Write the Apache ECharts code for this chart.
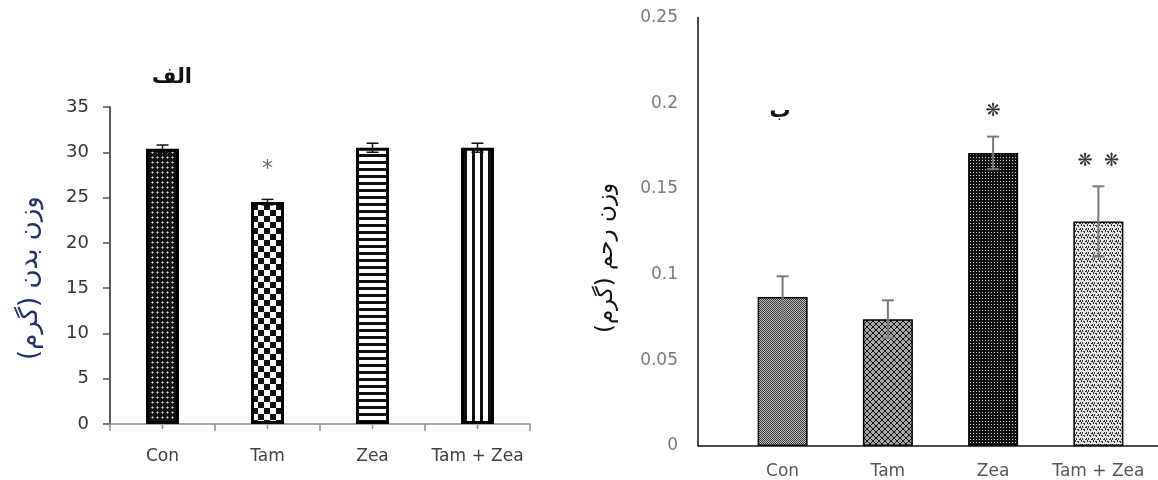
<!DOCTYPE html>
<html>
<head>
<meta charset="utf-8">
<script src="https://cdn.jsdelivr.net/npm/echarts@6/dist/echarts.min.js"></script>
<style>
html,body{margin:0;padding:0;background:#fff;}
#chart{width:1158px;height:480px;}
</style>
</head>
<body>
<div id="chart"></div>
<script>
// ---------- data ----------
const categories = ['Con', 'Tam', 'Zea', 'Tam + Zea'];

// Panel الف : body weight (g)
const bodyWeightMean = [30.4, 24.5, 30.5, 30.5];
const bodyWeightErr  = [0.4, 0.3, 0.5, 0.5];
const bodyWeightSig  = ['', '*', '', ''];
const bodyAxisMin = 0, bodyAxisMax = 35, bodyAxisStep = 5;

// Panel ب : uterus weight (g)
const uterusWeightMean = [0.087, 0.074, 0.171, 0.131];
const uterusWeightErr  = [0.012, 0.011, 0.0095, 0.0205];
const uterusWeightSig  = ['', '', '❋', '❋  ❋'];
const uterusAxisMin = 0, uterusAxisMax = 0.25, uterusAxisStep = 0.05;

const leftTitle = 'الف';
const rightTitle = 'ب';
const leftYName = 'وزن بدن (گرم)';
const rightYName = 'وزن رحم (گرم)';

// ---------- patterns ----------
function makeCanvas(w, h, draw) {
  const c = document.createElement('canvas');
  c.width = w; c.height = h;
  const ctx = c.getContext('2d');
  draw(ctx, w, h);
  return { image: c, repeat: 'repeat' };
}
const leftPatterns = [
  makeCanvas(5, 5, (ctx) => { ctx.fillStyle = '#111'; ctx.fillRect(0,0,5,5); ctx.fillStyle = '#ddd'; ctx.fillRect(2,2,1,1); ctx.fillStyle='#888'; ctx.fillRect(1,2,1,1);ctx.fillRect(3,2,1,1);ctx.fillRect(2,1,1,1);ctx.fillRect(2,3,1,1);}),
  makeCanvas(12, 12, (ctx) => { ctx.fillStyle = '#fff'; ctx.fillRect(0,0,12,12); ctx.fillStyle = '#111'; ctx.fillRect(0,0,6,6); ctx.fillRect(6,6,6,6); }),
  makeCanvas(7, 7, (ctx) => { ctx.fillStyle = '#fff'; ctx.fillRect(0,0,7,7); ctx.fillStyle = '#111'; ctx.fillRect(0,0,7,3); }),
  makeCanvas(8, 8, (ctx) => { ctx.fillStyle = '#fff'; ctx.fillRect(0,0,8,8); ctx.fillStyle = '#111'; ctx.fillRect(0,0,3,8); })
];
const rightPatterns = [
  makeCanvas(2, 2, (ctx) => { ctx.fillStyle = '#bdbdbd'; ctx.fillRect(0,0,2,2); ctx.fillStyle = '#3a3a3a'; ctx.fillRect(0,0,1,1); ctx.fillRect(1,1,1,1); }),
  makeCanvas(6, 6, (ctx) => { ctx.fillStyle = '#a8a8a8'; ctx.fillRect(0,0,6,6); ctx.fillStyle = '#111';
    for (let i=0;i<6;i++){ ctx.fillRect(i,i,1,1); ctx.fillRect(5-i,i,1,1);} }),
  makeCanvas(3, 3, (ctx) => { ctx.fillStyle = '#111'; ctx.fillRect(0,0,3,3); ctx.fillStyle = '#d0d0d0'; ctx.fillRect(1,1,1,1); }),
  makeCanvas(6, 6, (ctx) => { ctx.fillStyle = '#e4e4e4'; ctx.fillRect(0,0,6,6); ctx.fillStyle = '#333';
    ctx.fillRect(0,0,1,2); ctx.fillRect(2,0,1,2); ctx.fillRect(1,2,1,2); ctx.fillRect(3,3,1,1); ctx.fillRect(4,3,1,2); ctx.fillRect(5,1,1,1); })
];

// ---------- helpers ----------
function errorSeries(xIdx, yIdx, means, errs, sigs, color, lw, capHalf, sigOpts) {
  return {
    type: 'custom',
    xAxisIndex: xIdx, yAxisIndex: yIdx,
    z: 5,
    data: means.map((m, i) => [i, m, errs[i]]),
    encode: { x: 0, y: 1 },
    renderItem: function (params, api) {
      const i = api.value(0), v = api.value(1), e = api.value(2);
      const top = api.coord([i, v + e]);
      const bot = api.coord([i, v - e]);
      const x = top[0];
      const children = [
        { type: 'line', shape: { x1: x, y1: top[1], x2: x, y2: bot[1] }, style: { stroke: color, lineWidth: lw } },
        { type: 'line', shape: { x1: x - capHalf, y1: top[1], x2: x + capHalf, y2: top[1] }, style: { stroke: color, lineWidth: lw } },
        { type: 'line', shape: { x1: x - capHalf, y1: bot[1], x2: x + capHalf, y2: bot[1] }, style: { stroke: color, lineWidth: lw } }
      ];
      const s = sigs[params.dataIndex];
      if (s) {
        children.push({ type: 'text', style: { text: s, x: x, y: top[1] - sigOpts.gap, align: 'center', verticalAlign: 'middle',
          fill: sigOpts.color, font: sigOpts.font } });
      }
      return { type: 'group', children: children };
    }
  };
}

// short centre ticks under each bar (left panel), placed through the category axis scale
function centreTickSeries(xIdx, yIdx, n, len, color) {
  return {
    type: 'custom', xAxisIndex: xIdx, yAxisIndex: yIdx, z: 6, silent: true,
    data: Array.from({ length: n }, (_, i) => [i, 0]),
    encode: { x: 0, y: 1 },
    renderItem: function (params, api) {
      const p = api.coord([api.value(0), 0]);
      return { type: 'line', shape: { x1: p[0], y1: p[1] + 1, x2: p[0], y2: p[1] + len }, style: { stroke: color, lineWidth: 1.5 } };
    }
  };
}

const chart = echarts.init(document.getElementById('chart'), null, { renderer: 'canvas' });

const option = {
  animation: false,
  backgroundColor: '#fff',
  grid: [
    { left: 110, top: 107, width: 420, height: 317, containLabel: false },
    { left: 730, top: 17.5, width: 421, height: 428.5, containLabel: false }
  ],
  xAxis: [
    { type: 'category', gridIndex: 0, data: categories,
      axisLine: { lineStyle: { color: '#8a8a8a', width: 1.5 } },
      axisTick: { show: true, interval: 0, alignWithLabel: false, length: 7, lineStyle: { color: '#8a8a8a', width: 1.5 } },
      axisLabel: { interval: 0, margin: 24, color: '#404040', fontFamily: 'DejaVu Sans', fontSize: 17 } },
    { type: 'category', gridIndex: 1, data: categories,
      axisLine: { show: false },
      axisTick: { show: false },
      axisLabel: { interval: 0, margin: 17, color: '#555', fontFamily: 'DejaVu Sans', fontSize: 17 } }
  ],
  yAxis: [
    { type: 'value', gridIndex: 0, min: bodyAxisMin, max: bodyAxisMax, interval: bodyAxisStep,
      splitLine: { show: false },
      axisLine: { show: true, lineStyle: { color: '#222', width: 1.5 } },
      axisTick: { show: true, length: 7, lineStyle: { color: '#555', width: 1.5 } },
      axisLabel: { margin: 21, color: '#333', fontFamily: 'DejaVu Sans', fontSize: 18 } },
    { type: 'value', gridIndex: 1, min: uterusAxisMin, max: uterusAxisMax, interval: uterusAxisStep, offset: 32,
      splitLine: { show: false },
      axisLine: { show: true, lineStyle: { color: '#111', width: 1.5 } },
      axisTick: { show: false },
      axisLabel: { margin: 20, color: '#7a7a7a', fontFamily: 'DejaVu Sans', fontSize: 17,
        formatter: (v) => String(+v.toFixed(2)) } }
  ],
  series: [
    { type: 'bar', xAxisIndex: 0, yAxisIndex: 0, barWidth: 33,
      data: bodyWeightMean.map((v, i) => ({ value: v, itemStyle: { color: leftPatterns[i], borderColor: '#000', borderWidth: 3 } })) },
    errorSeries(0, 0, bodyWeightMean, bodyWeightErr, bodyWeightSig, '#111', 1.5, 6,
      { gap: 30, color: '#666', font: '22px DejaVu Sans' }),
    centreTickSeries(0, 0, categories.length, 5, '#8a8a8a'),
    { type: 'bar', xAxisIndex: 1, yAxisIndex: 1, barWidth: 50,
      data: uterusWeightMean.map((v, i) => ({ value: v, itemStyle: { color: rightPatterns[i], borderColor: '#000', borderWidth: 1.5 } })) },
    errorSeries(1, 1, uterusWeightMean, uterusWeightErr, uterusWeightSig, '#7a7a7a', 2, 6,
      { gap: 25, color: '#333', font: '18px DejaVu Sans' })
  ],
  graphic: [
    { type: 'line', shape: { x1: 698, y1: 446, x2: 1158, y2: 446 }, style: { stroke: '#111', lineWidth: 1.5 }, z: 10 },
    { type: 'text', x: 172, y: 78, style: { text: leftTitle, font: 'bold 21px DejaVu Sans', fill: '#111', align: 'center', verticalAlign: 'middle' } },
    { type: 'text', x: 780, y: 112, style: { text: rightTitle, font: 'bold 21px DejaVu Sans', fill: '#111', align: 'center', verticalAlign: 'middle' } },
    { type: 'text', x: 30, y: 278, rotation: Math.PI / 2, style: { text: leftYName, font: '26px DejaVu Sans', fill: '#1f3170', align: 'center', verticalAlign: 'middle' } },
    { type: 'text', x: 606, y: 258, rotation: Math.PI / 2, style: { text: rightYName, font: '23px DejaVu Sans', fill: '#111', align: 'center', verticalAlign: 'middle' } }
  ]
};
chart.setOption(option);
</script>
</body>
</html>
